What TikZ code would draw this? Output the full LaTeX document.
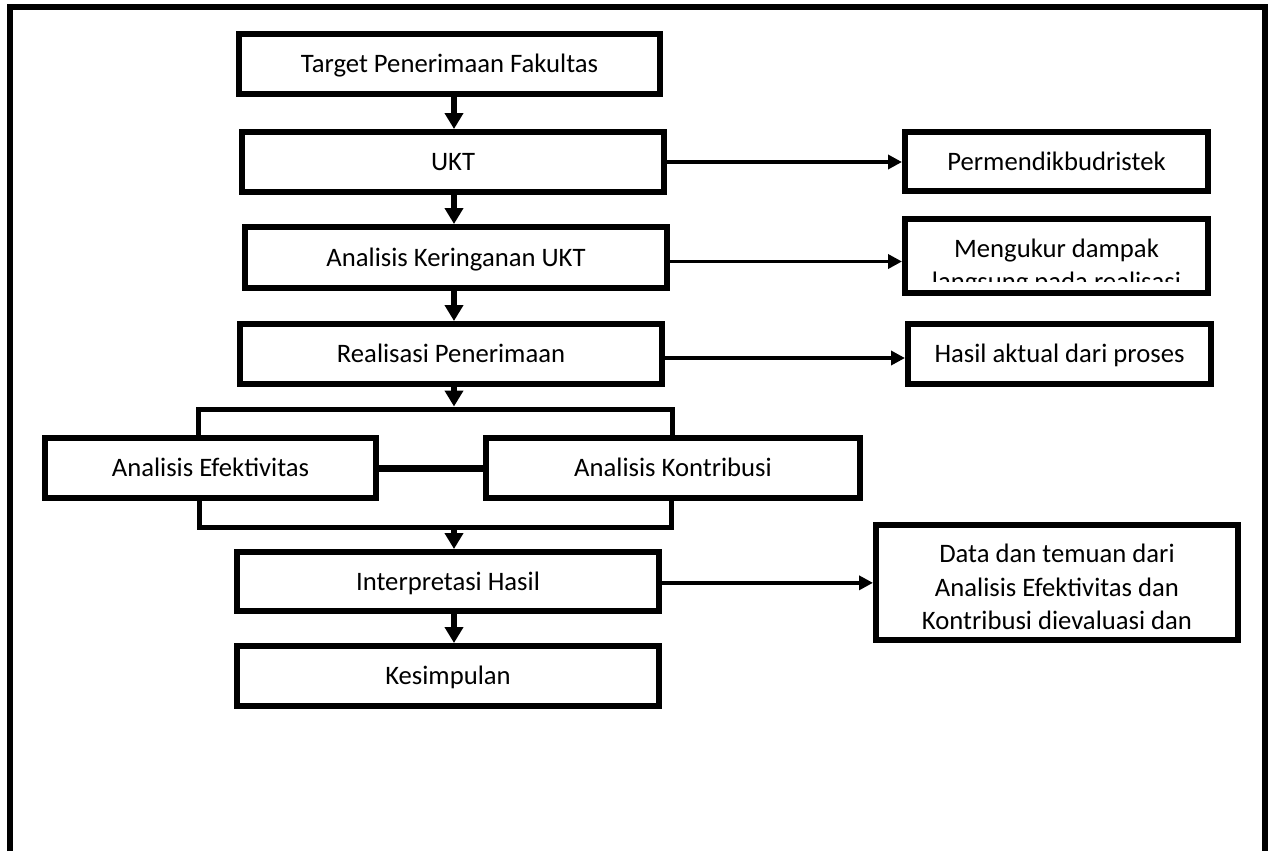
\documentclass[tikz,border=0pt]{standalone}
\usepackage{fontspec}
\setmainfont{Carlito}
\usetikzlibrary{arrows.meta,calc}
\begin{document}
\begin{tikzpicture}[x=0.75pt,y=-0.75pt,
  box/.style 2 args={draw=black, line width=4.5pt, fill=white, inner sep=0pt,
    minimum width={(#1-6)*0.75pt}, minimum height={(#2-6)*0.75pt},
    font=\fontsize{20}{25}\selectfont, align=center},
  one/.style={text height=12.9pt, text depth=0pt},
  txt/.style={inner sep=0pt, font=\fontsize{20}{25}\selectfont, align=center},
  varrow/.style={line width=4.5pt, -{Triangle[length=12pt,width=13.5pt]}},
  harrow/.style={line width=2.6pt, -{Triangle[length=10.5pt,width=10.5pt]}},
  brk/.style={line width=3.75pt, line join=miter},
  link/.style={line width=5.25pt},
  frame/.style={line width=4.5pt, line join=miter}]
\useasboundingbox (0,0) rectangle (1273,851);
% outer frame (open at the bottom)
\draw[frame] (9.8,851) -- (9.8,7) -- (1264.5,7) -- (1264.5,851);
% main column
\coordinate (spine) at (454,0);
\node[box={427}{66},one] (tgt) at (449.5,64) {Target Penerimaan Fakultas};
\node[box={428}{66},one] (ukt) at (453,162) {UKT};
\node[box={428}{67},one] (ker) at (456,257.5) {Analisis Keringanan UKT};
\node[box={428}{66},one] (real) at (451,354) {Realisasi Penerimaan};
\node[box={337}{66},one] (efek) at (210.5,468) {Analisis Efektivitas};
\node[box={380}{66},one] (kontr) at (673,468) {Analisis Kontribusi};
\node[box={428}{65},one] (interp) at (448,581.5) {Interpretasi Hasil};
\node[box={428}{66},one] (kesim) at (448,676) {Kesimpulan};
% right column
\node[box={309}{65},one] (perm) at (1056.5,161.5) {Permendikbudristek};
\node[box={309}{80}] (meng) at (1056.5,256) {};
\begin{scope}
  \clip (902,219) rectangle (1211,281);
  \node[txt] (mengt) at (1056.5,266.7) {Mengukur dampak\\langsung pada realisasi};
\end{scope}
\node[box={309}{66},one] (hasil) at (1059.5,354) {Hasil aktual dari proses};
\node[box={368}{121}] (data) at (1057,582.5) {};
\node[txt] (datat) at (1057,587) {Data dan temuan dari\\Analisis Efektivitas dan\\Kontribusi dievaluasi dan};
% bracket around the two analyses
\coordinate (brTL) at (198,409);
\coordinate (brTR) at (672,409);
\coordinate (brBL) at (199.5,527);
\coordinate (brBR) at (671.5,527);
\coordinate (brT) at (454,406.5);
\coordinate (brB) at (454,527);
\draw[brk] (brTL |- efek.north) -- (brTL) -- (brTR) -- (brTR |- kontr.north);
\draw[brk] (brBL |- efek.south) -- (brBL) -- (brBR) -- (brBR |- kontr.south);
\draw[link] (efek.east) -- (kontr.west);
% vertical arrows
\draw[varrow] (tgt.south -| spine) -- (ukt.north -| spine);
\draw[varrow] (ukt.south -| spine) -- (ker.north -| spine);
\draw[varrow] (ker.south -| spine) -- (real.north -| spine);
\draw[varrow] (real.south -| spine) -- (brT);
\draw[varrow] (brB) -- (interp.north -| spine);
\draw[varrow] (interp.south -| spine) -- (kesim.north -| spine);
% horizontal arrows
\draw[harrow] (ukt.east) -- (ukt.east -| perm.west);
\draw[harrow] ([yshift=-3pt]ker.east) -- ([yshift=-3pt]ker.east -| meng.west);
\draw[harrow] ([yshift=-3pt]real.east) -- ([yshift=-3pt]real.east -| hasil.west);
\draw[harrow] ([yshift=-1pt]interp.east) -- ([yshift=-1pt]interp.east -| data.west);
\end{tikzpicture}
\end{document}
